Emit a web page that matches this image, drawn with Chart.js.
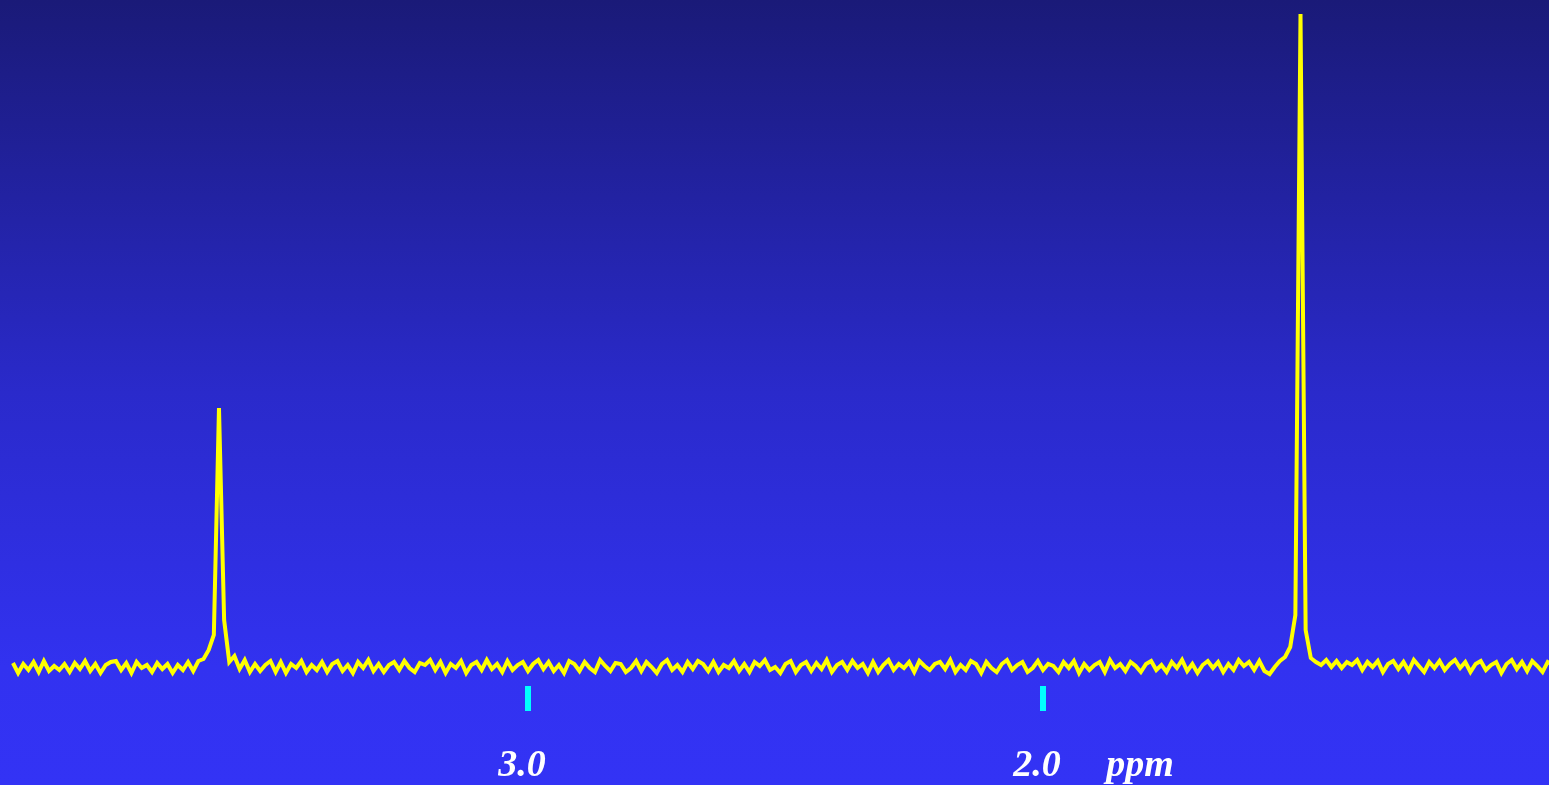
<!DOCTYPE html>
<html>
<head>
<meta charset="utf-8">
<script src="https://cdn.jsdelivr.net/npm/chart.js@4"></script>
<style>
  html, body { margin: 0; padding: 0; overflow: hidden; }
  body { width: 1549px; height: 785px; background: linear-gradient(#1a1a78 0%, #2a2acb 50%, #3232f0 85%, #3333f5 100%); }
  canvas { display: block; }
</style>
</head>
<body>
<canvas id="nmrChart" width="1549" height="785"></canvas>
<script>
// spectrum sampled every 0.01 ppm, starting at 4.00 ppm
let ppmStart = 4.00;
let ppmStep = 0.01;

// intensity, one row = 20 points (0.2 ppm)
let intensity = [
  7,-3,6,0,8,-2,9,-1,4,0,6,-2,7,1,9,-1,6,-3,5,8,
  9,0,7,-3,8,2,5,-2,7,1,6,-3,5,0,8,-1,9,11,20,35,
  262,50,8,14,1,10,-2,6,-1,5,9,-2,8,-3,6,2,9,-2,5,0,
  8,-2,6,9,-1,5,-3,8,2,10,-1,6,-2,5,8,0,9,2,-2,7,
  5,10,0,8,-3,6,2,9,-3,5,8,0,10,1,6,-2,9,0,5,8,
  -1,6,10,1,8,-1,5,-3,9,6,-1,8,2,-2,10,4,-1,7,6,-2,
  2,9,-1,8,3,-3,6,10,0,5,-2,8,1,9,6,-1,8,-2,5,2,
  9,-1,6,-2,8,4,10,0,3,-3,6,9,-2,5,8,-1,7,1,10,-2,
  5,8,0,9,2,6,-3,8,-2,5,10,0,6,2,8,-2,9,4,0,6,
  8,1,10,-2,5,0,9,6,-3,8,2,-2,6,10,0,5,8,-2,2,9,
  0,6,4,-2,8,2,9,-3,6,0,5,8,-2,10,2,6,-1,8,4,-2,
  6,9,0,5,-2,8,2,10,-1,6,-3,5,9,2,8,-2,6,0,10,4,
  8,0,9,-1,-4,3,9,13,23,55,656,40,12,8,5,10,3,9,2,8,
  5,10,0,8,3,9,-2,6,9,1,8,-1,10,4,-2,8,2,9,0,6,
  10,2,8,-2,6,9,0,5,8,-3,6,10,1,8,-1,9,4,-2,8,5
];

let tickValues = [3.0, 2.0, 1.80];
let tickLabels = ["3.0", "2.0", "ppm"];

let points = intensity.map((v, i) => ({ x: +(ppmStart - i * ppmStep).toFixed(2), y: v }));

let nmrChart = new Chart("nmrChart", {
  type: "line",
  data: {
    datasets: [{
      data: points,
      borderColor: "#ffff00",
      borderWidth: 4,
      pointRadius: 0,
      tension: 0,
      fill: false
    }]
  },
  options: {
    responsive: false,
    animation: false,
    plugins: { legend: { display: false }, tooltip: { enabled: false } },
    layout: { padding: 0 },
    scales: {
      x: {
        type: "linear",
        reverse: true,
        min: 1.0175,
        max: 4.0252,
        afterBuildTicks: (scale) => { scale.ticks = tickValues.map(v => ({ value: v })); },
        afterFit: (scale) => { scale.height = 99; },
        border: { display: false },
        grid: {
          drawOnChartArea: false,
          drawTicks: true,
          tickLength: 25,
          lineWidth: 6,
          color: (ctx) => ctx.index === 2 ? "rgba(0,0,0,0)" : "#00ffff"
        },
        ticks: {
          autoSkip: false,
          maxRotation: 0,
          padding: 32,
          labelOffset: -6,
          color: "#ffffff",
          font: { family: "'Liberation Serif', 'Times New Roman', serif", size: 38, style: "italic", weight: "bold" },
          callback: (value, index) => tickLabels[index]
        }
      },
      y: {
        display: false,
        min: -16,
        max: 670
      }
    }
  }
});
</script>
</body>
</html>
